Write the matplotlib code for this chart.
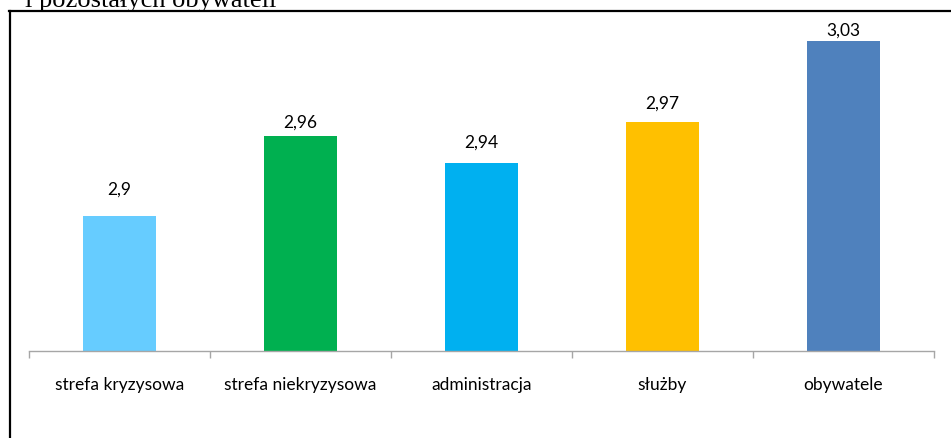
import matplotlib
matplotlib.use("Agg")
import matplotlib.pyplot as plt
from matplotlib.lines import Line2D

# average scores per group
categories = ["strefa kryzysowa", "strefa niekryzysowa", "administracja", "służby", "obywatele"]
values = [2.90, 2.96, 2.94, 2.97, 3.03]
colors = ["#66CCFF", "#00B050", "#00B0F0", "#FFC000", "#4F81BD"]
# distance (pixels) from bar top to the baseline of its value label
label_gap = [23, 9, 16, 15, 7]

W, H = 951, 439
fig = plt.figure(figsize=(W / 100, H / 100), dpi=100)
font = ["Lato", "DejaVu Sans"]

# plot area in pixel coordinates
left, right, base, top = 29, 934, 352, 15.5
ax = fig.add_axes([left / W, 1 - base / H, (right - left) / W, (base - top) / H])

x = list(range(len(categories)))
ax.bar(x, values, width=0.40, color=colors, bottom=0)
ax.set_ylim(2.8, 3.05)
ax.set_xlim(-0.5, len(categories) - 0.5)

for xi, v, g in zip(x, values, label_gap):
    ax.annotate(f"{v:g}".replace(".", ","), (xi, v), xytext=(0, g * 0.72),
                textcoords="offset points", ha="center", va="baseline",
                fontsize=12.5, family=font, color="#000000")

for s in ["top", "right", "left"]:
    ax.spines[s].set_visible(False)
ax.spines["bottom"].set_color("#A6A6A6")
ax.spines["bottom"].set_linewidth(1.0)
ax.set_yticks([])
ax.set_xticks(x)
ax.set_xticklabels(categories, family=font, fontsize=12.5)
ax.tick_params(axis="x", which="major", length=0, pad=18)
ax.set_xticks([i - 0.5 for i in range(len(categories) + 1)], minor=True)
ax.tick_params(axis="x", which="minor", length=5, color="#A6A6A6", width=1.0)

# surrounding frame (top and left edges) and the clipped caption above it
fig.add_artist(Line2D([9 / W, 1], [1 - 12 / H, 1 - 12 / H], color="black", lw=1.6,
                      transform=fig.transFigure))
fig.add_artist(Line2D([10 / W, 10 / W], [0, 1 - 12 / H], color="black", lw=1.6,
                      transform=fig.transFigure))
fig.text(25 / W, 1 - 7 / H, "i pozostałych obywateli", family="Liberation Serif",
         fontsize=19, va="baseline", ha="left")

fig.savefig("out.png", dpi=100)
